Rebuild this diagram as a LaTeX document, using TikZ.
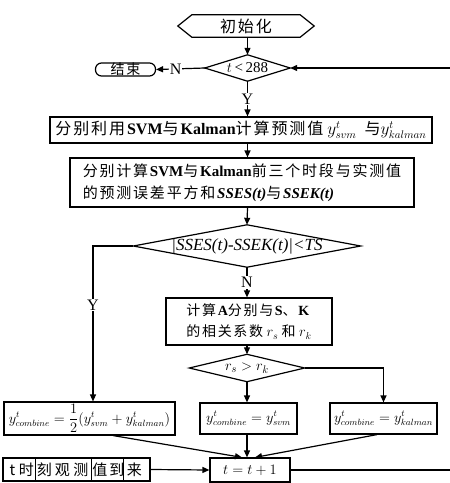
\documentclass[tikz,border=0pt]{standalone}
\usepackage{fontspec}
\setmainfont{Liberation Serif}
\newfontfamily\cjk[LetterSpace=12]{Noto Sans CJK SC}
\newfontfamily\cjkplain{Noto Sans CJK SC}
\newcommand{\zh}[1]{{\cjk #1}}
\usetikzlibrary{arrows.meta,calc}
\begin{document}
\begin{tikzpicture}[x=1pt,y=-1pt,
  font=\fontsize{14}{18}\selectfont,
  line/.style={line width=1.2pt},
  procbox/.style={draw,line width=1.2pt,inner sep=2pt,rectangle},
  decision/.style={rectangle,inner sep=0pt},
  arr/.style={line width=1.2pt,-{Triangle[length=7pt,width=6pt]}},
  lbl/.style={fill=white,inner sep=1pt,font=\fontsize{16}{18}\selectfont}]
\useasboundingbox (0,0) rectangle (450,483);
% start hexagon
\node (init) at (246,26) [minimum width=108pt, minimum height=22pt, inner sep=0pt, font=\fontsize{16}{18}\selectfont] {\zh{初始化}};
\draw[line] ($(init.west)+(-14,0)$) -- (init.north west) -- (init.north east) -- ($(init.east)+(14,0)$) -- (init.south east) -- (init.south west) -- cycle;
% decision t<288
\node[decision, minimum width=85pt, minimum height=26pt, font=\fontsize{15}{18}\selectfont] (d1) at (247.5,68) {$t$\,<\,288};
\draw[line] (d1.west) -- (d1.north) -- (d1.east) -- (d1.south) -- cycle;
\draw[arr] ($(init.south)+(1.5,0)$) -- (d1.north);
% end
\node[draw, line width=1.2pt, rounded corners=6pt, minimum width=60pt, minimum height=13pt, inner sep=0pt] (end) at (125.5,69.5) {\zh{结束}};
\draw[arr] (d1.west) -- node[lbl,pos=0.6]{N} (end.east);
% box1
\node[procbox, minimum width=382pt, minimum height=26pt, font=\fontsize{16}{19}\selectfont] (b1) at (241,130)
  {\zh{分别利用}\textbf{SVM}\zh{与}\textbf{Kalman}\zh{计算预测值} $y^{t}_{svm}$\ \ \zh{与}$y^{t}_{kalman}$};
\draw[arr] (d1.south) -- node[lbl]{Y} (d1.south |- b1.north);
% box2
\node[procbox, minimum width=344pt, minimum height=49pt, align=left, font=\fontsize{15}{22}\selectfont] (b2) at (242,182.5)
  {\zh{分别计算}\textbf{SVM}\zh{与}\textbf{Kalman}\zh{前三个时段与实测值}\\
   \zh{的预测误差平方和}\textbf{\textit{SSES(t)}}\zh{与}\textbf{\textit{SSEK(t)}}};
\draw[arr] (d1.south |- b1.south) -- (d1.south |- b2.north);
% decision 2
\node[decision, minimum width=227pt, minimum height=42pt, font=\fontsize{17}{19}\selectfont] (d2) at (247,246) {\textit{|SSES(t)-SSEK(t)|<TS}};
\draw[line] (d2.west) -- (d2.north) -- (d2.east) -- (d2.south) -- cycle;
\draw[arr] (d1.south |- b2.south) -- (d2.north);
% box3
\node[procbox, minimum width=166pt, minimum height=47pt, align=left, font=\fontsize{14}{21}\selectfont] (b3) at (249,321.5)
  {\zh{计算}\textbf{A}\zh{分别与}\textbf{S}\zh{、}\textbf{K}\\
   \zh{的相关系数} $r_s$ \zh{和} $r_k$};
\draw[arr] (d2.south) -- node[lbl]{N} (d2.south |- b3.north);
% decision 3
\node[decision, minimum width=115pt, minimum height=27pt, font=\fontsize{15}{18}\selectfont] (d3) at (247,368) {$r_s > r_k$};
\draw[line] (d3.west) -- (d3.north) -- (d3.east) -- (d3.south) -- cycle;
\draw[arr] (d2.south |- b3.south) -- (d3.north);
% result boxes
\node[procbox, minimum width=171pt, minimum height=31pt, font=\fontsize{13.5}{16}\selectfont] (b4) at (89.5,418.5)
  {$y^{t}_{combine}=\displaystyle\frac{1}{2}(y^{t}_{svm}+y^{t}_{kalman})$};
\node[procbox, minimum width=97pt, minimum height=31pt, font=\fontsize{13.5}{16}\selectfont] (b5) at (248.5,418.5)
  {$y^{t}_{combine}=y^{t}_{svm}$};
\node[procbox, minimum width=107pt, minimum height=31pt, font=\fontsize{13.5}{16}\selectfont] (b6) at (383.5,418.5)
  {$y^{t}_{combine}=y^{t}_{kalman}$};
\draw[arr] (d2.west) -| node[lbl,pos=0.69]{Y} ($(b4.north)+(3.5,0)$);
\draw[arr] (d3.east) -| (b6.north);
\draw[arr] (d3.south) -- (d3.south |- b5.north);
% t = t+1
\node[procbox, minimum width=80pt, minimum height=24pt, font=\fontsize{15}{18}\selectfont] (b7) at (250,470) {$t=t+1$};
\node[procbox, minimum width=147pt, minimum height=23pt, inner sep=0pt, font=\cjkplain\fontsize{15}{18}\selectfont] (obs) at (76.5,469.5)
  {\hspace*{4pt}\makebox[11pt]{t}\makebox[17pt]{时}\makebox[19pt]{刻}\makebox[17pt]{观}\makebox[20pt]{测}\makebox[18pt]{值}\makebox[16pt]{到}\makebox[19pt]{来}\hspace*{6pt}};
\foreach \dx in {33,89,121}
  \draw[line] ($(obs.north west)+(\dx,0)$) -- ($(obs.south west)+(\dx,0)$);
\draw[arr] ($(b4.south)+(23.5,0)$) -- ($(b7.north)+(-8,0)$);
\draw[arr] (d3.south |- b5.south) -- (d3.south |- b7.north);
\draw[arr] ($(b6.south)+(-6.5,0)$) -- ($(b7.north)+(5,0)$);
\draw[arr] (obs.east) -- (b7.west);
\coordinate (rb) at (453,470);
\coordinate (rt) at (453,68);
\draw[arr] (b7.east) -- (rb) -- (rt) -- (d1.east);
\end{tikzpicture}
\end{document}
